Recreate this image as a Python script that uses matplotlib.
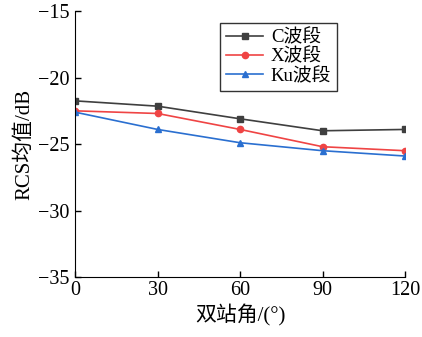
import matplotlib.pyplot as plt

plt.rcParams['font.family'] = ['Liberation Serif', 'Noto Sans CJK SC']
plt.rcParams['axes.unicode_minus'] = True

angles = [0, 30, 60, 90, 120]
rcs_c = [-21.75, -22.15, -23.1, -24.0, -23.9]
rcs_x = [-22.5, -22.7, -23.9, -25.2, -25.5]
rcs_ku = [-22.6, -23.9, -24.9, -25.5, -25.9]

fig = plt.figure(figsize=(4.22, 3.37), dpi=100)
ax = fig.add_axes([0.178, 0.178, 0.782, 0.789])

ax.plot(angles, rcs_c, '-s', color='#3f3f3f', lw=1.2, ms=4, label='C波段')
ax.plot(angles, rcs_x, '-o', color='#ef4444', lw=1.2, ms=4.5, label='X波段')
ax.plot(angles, rcs_ku, '-^', color='#2a6fd0', lw=1.2, ms=4.5, label='Ku波段')

ax.set_xlim(0, 120)
ax.set_ylim(-35, -15)
ax.set_xticks([0, 30, 60, 90, 120])
ax.set_yticks([-35, -30, -25, -20, -15])
ax.spines['top'].set_visible(False)
ax.spines['right'].set_visible(False)
ax.tick_params(direction='in', labelsize=14.5, length=4, width=1)
ax.tick_params(axis='x', pad=3)
ax.tick_params(axis='y', pad=4)
ax.set_xlabel('双站角/(°)', fontsize=15, labelpad=3)
ax.set_ylabel('RCS均值/dB', fontsize=15, labelpad=3)

leg = ax.legend(loc='upper left', bbox_to_anchor=(0.44, 0.955), fontsize=13.5,
                fancybox=False, edgecolor='black', handlelength=2.0,
                borderpad=0.3, labelspacing=0.1, handletextpad=0.4,
                borderaxespad=0)
leg.get_frame().set_linewidth(1.0)

fig.savefig('out.png', dpi=100)
